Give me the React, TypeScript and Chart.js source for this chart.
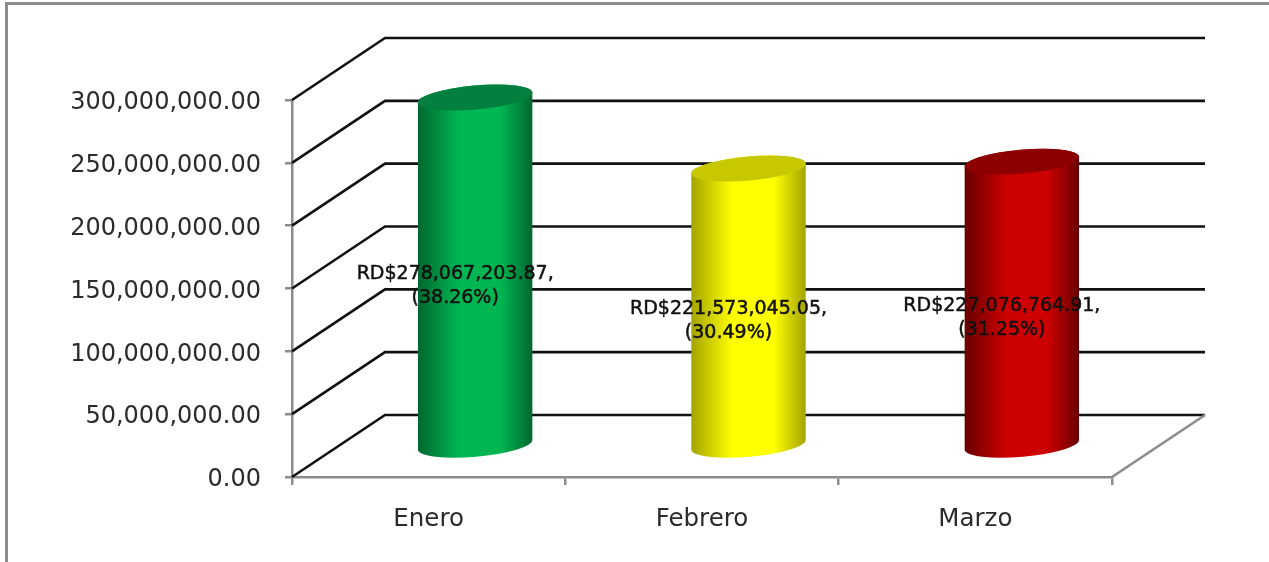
import React, { useEffect, useRef } from "react";
import { Chart, registerables } from "chart.js";

Chart.register(...registerables);

const categories = ["Enero", "Febrero", "Marzo"];
const values = [278067203.87, 221573045.05, 227076764.91];
const shares = ["38.26%", "30.49%", "31.25%"];
const bodyColors = ["#00B653", "#FFFF00", "#CC0000"];
const edgeColors = ["#00672F", "#A3A300", "#680000"];
const capColors = ["#03803F", "#C8C800", "#8C0000"];

const DEPTH_X = 93;
const DEPTH_Y = 62;
const TILT = (-5 * Math.PI) / 180;
const FONT = "'DejaVu Sans', sans-serif";

const money = (v: number) =>
  v.toLocaleString("en-US", { minimumFractionDigits: 2, maximumFractionDigits: 2 });

const cylinders = {
  id: "cylinders",
  beforeDatasetsDraw(chart: any) {
    const { ctx, chartArea, scales } = chart;
    ctx.save();
    ctx.lineCap = "butt";
    scales.y.ticks.forEach((t: any) => {
      const y = scales.y.getPixelForValue(t.value);
      ctx.strokeStyle = "#111111";
      ctx.lineWidth = 2.6;
      ctx.beginPath();
      ctx.moveTo(chartArea.left, y);
      ctx.lineTo(chartArea.left + DEPTH_X, y - DEPTH_Y);
      ctx.lineTo(chartArea.right + DEPTH_X, y - DEPTH_Y);
      ctx.stroke();
    });
    ctx.strokeStyle = "#8c8c8c";
    ctx.lineWidth = 2.6;
    ctx.beginPath();
    ctx.moveTo(chartArea.right, chartArea.bottom);
    ctx.lineTo(chartArea.right + DEPTH_X, chartArea.bottom - DEPTH_Y);
    ctx.stroke();
    ctx.restore();
  },
  beforeDatasetDraw(chart: any, args: any) {
    const { ctx } = chart;
    const meta = args.meta;
    meta.data.forEach((bar: any, i: number) => {
      const { x, y, base, width } = bar.getProps(["x", "y", "base", "width"], true);
      const cx = x + DEPTH_X / 2;
      const top = y - DEPTH_Y / 2 + 1;
      const bottom = base - DEPTH_Y / 2;
      const rx = width / 2;
      const ry = 12;
      const grad = ctx.createLinearGradient(cx - rx, 0, cx + rx, 0);
      grad.addColorStop(0, edgeColors[i]);
      grad.addColorStop(0.36, bodyColors[i]);
      grad.addColorStop(0.72, bodyColors[i]);
      grad.addColorStop(1, edgeColors[i]);
      ctx.save();
      ctx.fillStyle = grad;
      ctx.beginPath();
      ctx.ellipse(cx, bottom, rx, ry, TILT, 0, Math.PI);
      ctx.ellipse(cx, top, rx, ry, TILT, Math.PI, Math.PI * 2);
      ctx.closePath();
      ctx.fill();
      ctx.fillStyle = capColors[i];
      ctx.beginPath();
      ctx.ellipse(cx, top, rx, ry, TILT, 0, Math.PI * 2);
      ctx.fill();
      ctx.restore();
    });
    return false;
  },
  afterDatasetsDraw(chart: any) {
    const { ctx } = chart;
    const meta = chart.getDatasetMeta(0);
    ctx.save();
    ctx.font = `19px ${FONT}`;
    ctx.textAlign = "center";
    ctx.textBaseline = "middle";
    ctx.fillStyle = "#111111";
    ctx.strokeStyle = "#111111";
    ctx.lineWidth = 0.5;
    meta.data.forEach((bar: any, i: number) => {
      const { x, y, base } = bar.getProps(["x", "y", "base"], true);
      const cx = x + DEPTH_X * 0.285;
      const cy = (y + base) / 2 - 16;
      const l1 = `RD$${money(values[i])},`;
      const l2 = `(${shares[i]})`;
      ctx.fillText(l1, cx, cy - 12);
      ctx.strokeText(l1, cx, cy - 12);
      ctx.fillText(l2, cx, cy + 12);
      ctx.strokeText(l2, cx, cy + 12);
    });
    ctx.restore();
  },
};

export default function App() {
  const ref = useRef<HTMLCanvasElement>(null);
  useEffect(() => {
    document.body.style.margin = "0";
    document.body.style.background = "#ffffff";
    const chart = new Chart(ref.current!, {
      type: "bar",
      data: {
        labels: categories,
        datasets: [
          {
            data: values,
            backgroundColor: bodyColors,
            categoryPercentage: 1,
            barPercentage: 0.42,
          },
        ],
      },
      plugins: [cylinders],
      options: {
        animation: false,
        responsive: false,
        layout: { padding: { top: 100, right: 157, left: 0, bottom: 0 } },
        plugins: { legend: { display: false }, tooltip: { enabled: false } },
        scales: {
          x: {
            afterFit: (s: any) => {
              s.height = 85;
            },
            border: { color: "#8c8c8c", width: 2.5 },
            grid: { drawOnChartArea: false, color: "#8c8c8c", tickLength: 8, lineWidth: 2.5 },
            ticks: { color: "#2b2b2b", padding: 20, font: { family: FONT, size: 24.5 }, maxRotation: 0 },
          },
          y: {
            min: 0,
            max: 300000000,
            afterFit: (s: any) => {
              s.width = 292;
            },
            border: { color: "#8c8c8c", width: 2.5 },
            grid: { drawOnChartArea: false, color: "#8c8c8c", tickLength: 7, lineWidth: 2.5 },
            ticks: {
              stepSize: 50000000,
              color: "#2b2b2b",
              padding: 24,
              labelOffset: 3,
              font: { family: FONT, size: 24 },
              callback: (v: any) => money(Number(v)),
            },
          },
        },
      },
    });
    return () => chart.destroy();
  }, []);
  return (
    <div style={{ position: "relative", width: 1269, height: 562, overflow: "hidden", background: "#fff" }}>
      <div
        style={{
          position: "absolute",
          left: 5,
          top: 2,
          right: 0,
          bottom: -4,
          borderLeft: "3px solid #8c8c8c",
          borderTop: "3px solid #8c8c8c",
        }}
      />
      <canvas
        ref={ref}
        width={1269}
        height={562}
        style={{ position: "absolute", left: 0, top: 0, display: "block", filter: "blur(0.5px)" }}
      />
    </div>
  );
}
